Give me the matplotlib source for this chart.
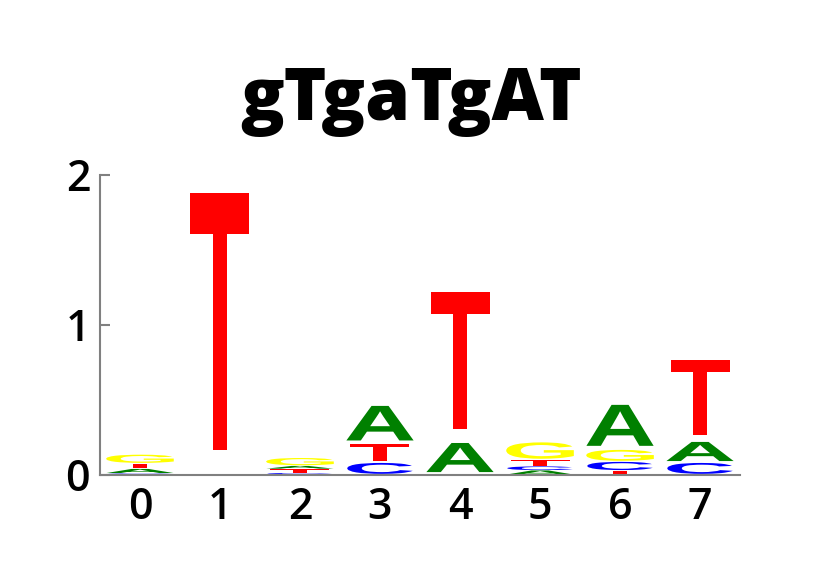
import numpy as np
import matplotlib
matplotlib.use("Agg")
import matplotlib.pyplot as plt
from matplotlib.textpath import TextPath
from matplotlib.font_manager import FontProperties
from matplotlib.patches import PathPatch
from matplotlib.transforms import Affine2D

# Datos del logo (alturas en bits, apiladas de abajo hacia arriba)
titulo = "gTgaTgAT"
posiciones = [0, 1, 2, 3, 4, 5, 6, 7]
orden = ["CATG", "T", "CTAG", "CTA", "AT", "ACTG", "TCGA", "CAT"]
alt_A = [0.030, 0.0, 0.020, 0.253, 0.213, 0.030, 0.300, 0.140]
alt_C = [0.010, 0.0, 0.013, 0.080, 0.0, 0.027, 0.060, 0.080]
alt_G = [0.060, 0.0, 0.053, 0.0, 0.0, 0.120, 0.080, 0.0]
alt_T = [0.035, 1.880, 0.027, 0.127, 1.007, 0.040, 0.027, 0.547]
yticks = [0, 1, 2]

alturas = {"A": alt_A, "C": alt_C, "G": alt_G, "T": alt_T}
colores = {"A": "#008000", "C": "#0000ff", "G": "#ffff00", "T": "#ff0000"}

fp = FontProperties(family="Liberation Sans", weight="bold")
glifos = {l: TextPath((0, 0), l, size=1, prop=fp) for l in "ACGT"}
ancho_A = glifos["A"].get_extents().width
sx = 0.84 / ancho_A


def dibujar_letra(ax, letra, x, y0, h, pad=0.09):
    path = glifos[letra]
    ext = path.get_extents()
    sy = h * (1 - pad) / ext.height
    tr = (Affine2D()
          .translate(-(ext.x0 + ext.width / 2), -ext.y0)
          .scale(sx, sy)
          .translate(x, y0 + h * pad))
    p = tr.transform_path(path)
    ax.add_patch(PathPatch(p, facecolor=colores[letra], edgecolor="none", lw=0))


fig = plt.figure(figsize=(8.4, 5.75), dpi=100)
ax = fig.add_axes([0.119, 0.174, 0.762, 0.522])

for i, x in enumerate(posiciones):
    y = 0.0
    for letra in orden[i]:
        h = alturas[letra][i]
        if h > 0:
            dibujar_letra(ax, letra, x, y, h)
        y += h

ax.set_xlim(-0.5, 7.5)
ax.set_ylim(0, 2)
ax.set_xticks(posiciones)
ax.set_yticks(yticks)
ax.set_xticklabels([str(p) for p in posiciones], fontsize=31,
                   family="Open Sans", fontweight="semibold")
ax.set_yticklabels([str(t) for t in yticks], fontsize=31,
                   family="Open Sans", fontweight="semibold")
ax.tick_params(axis="x", length=0, pad=8)
ax.tick_params(axis="y", direction="in", length=7, width=1.5, color="#808080", pad=7)
for s in ["top", "right"]:
    ax.spines[s].set_visible(False)
for s in ["left", "bottom"]:
    ax.spines[s].set_color("#808080")
    ax.spines[s].set_linewidth(1.5)

fig.text(411 / 840, 0.791, titulo, ha="center", va="baseline",
         fontsize=52, fontweight="heavy", family="Open Sans")

fig.savefig("out.png", dpi=100)
